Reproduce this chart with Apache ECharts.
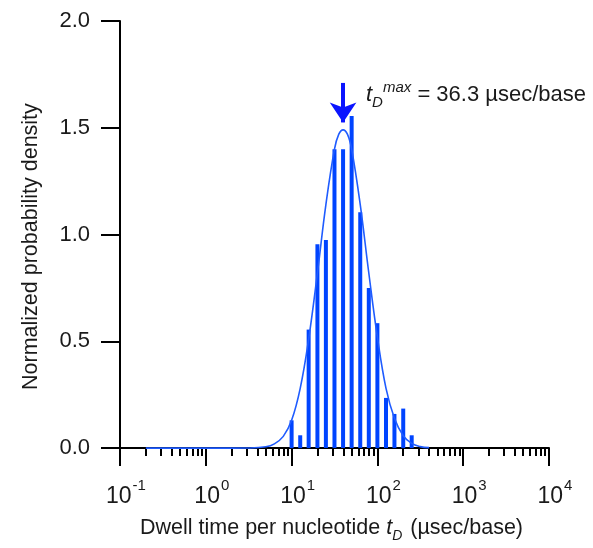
<!DOCTYPE html>
<html>
<head>
<meta charset="utf-8">
<script src="https://cdn.jsdelivr.net/npm/echarts@6/dist/echarts.min.js"></script>
<style>
  html, body { margin: 0; padding: 0; background: #ffffff; }
  #chart { width: 593px; height: 548px; }
</style>
</head>
<body>
<div id="chart"></div>
<script>
// Histogram bins (dwell time in µsec/base) and normalized densities
const binTimes = [10, 12.6, 15.8, 20, 25.1, 31.6, 39.8, 50.1, 63.1, 79.4, 100, 126, 158, 200, 251];
const binDensity = [0.13, 0.06, 0.555, 0.955, 0.975, 1.40, 1.40, 1.555, 1.105, 0.75, 0.585, 0.235, 0.16, 0.185, 0.06];

// Fitted curve (dwell time, density)
const curveTimes = [0.2, 0.5, 1, 2, 3.16, 5, 6.3, 8, 10, 12.6, 15.8, 20, 25.1, 31.6, 35.5, 39.8, 44.7, 50.1, 63.1, 79.4, 100, 126, 158, 200, 251, 316, 400];
const curveDensity = [0, 0, 0, 0, 0.0005, 0.006, 0.02, 0.055, 0.13, 0.28, 0.51, 0.82, 1.14, 1.40, 1.47, 1.49, 1.47, 1.40, 1.14, 0.82, 0.52, 0.28, 0.14, 0.058, 0.022, 0.007, 0.002];

// Axis ticks
const xDecades = [-1, 0, 1, 2, 3, 4];
const yTicks = [0, 0.5, 1.0, 1.5, 2.0];

// Annotation
const peakTime = 39.8;
const arrowTop = 1.71;
const arrowTip = 1.525;
const peakLabel = '36.3 µsec/base';

const FONT = "'Liberation Sans', Arial, sans-serif";
const TXT = '#1a1a1a';
const BLUE_BAR = '#0044ff';
const BLUE_LINE = '#1f5cff';
const BLUE_ARROW = '#0a14ff';

const minorTicks = [];
for (let d = xDecades[0]; d < xDecades[xDecades.length - 1]; d++) {
  for (let k = 2; k <= 9; k++) minorTicks.push(d + Math.log10(k));
}

const chart = echarts.init(document.getElementById('chart'), null, { renderer: 'canvas' });

const axisLineStyle = { color: '#000', width: 2 };

const option = {
  animation: false,
  backgroundColor: '#ffffff',
  grid: { left: 120, right: 44, top: 21, bottom: 98, containLabel: false },
  xAxis: [
    {
      type: 'value',
      min: xDecades[0],
      max: xDecades[xDecades.length - 1],
      interval: 1,
      splitLine: { show: false },
      axisLine: { show: true, onZero: false, lineStyle: axisLineStyle },
      axisTick: { show: true, inside: false, length: 18, lineStyle: { color: '#000', width: 2 } },
      axisLabel: {
        margin: 30,
        fontFamily: FONT,
        color: TXT,
        padding: [0, 0, 0, 12],
        formatter: function (v) { return '{b|10}{s|' + Math.round(v) + '}'; },
        rich: {
          b: { fontFamily: FONT, fontSize: 23, color: TXT, lineHeight: 30, verticalAlign: 'bottom' },
          s: { fontFamily: FONT, fontSize: 15, color: TXT, lineHeight: 30, verticalAlign: 'top', padding: [0, 0, 12, 1] }
        }
      },
      name: 'Dwell time per nucleotide {it|t}{sub|D} (µsec/base)',
      nameLocation: 'middle',
      nameGap: 64,
      nameTextStyle: {
        fontFamily: FONT,
        fontSize: 21.5,
        color: TXT,
        lineHeight: 30,
        padding: [0, 6, 0, 0],
        rich: {
          it: { fontFamily: FONT, fontSize: 21.5, fontStyle: 'italic', color: TXT, lineHeight: 30 },
          sub: { fontFamily: FONT, fontSize: 14, fontStyle: 'italic', color: TXT, lineHeight: 30, verticalAlign: 'bottom', padding: [6, 2, 0, 0] }
        }
      }
    },
    {
      type: 'value',
      min: xDecades[0],
      max: xDecades[xDecades.length - 1],
      position: 'bottom',
      splitLine: { show: false },
      axisLine: { show: false, onZero: false },
      axisLabel: { show: false },
      axisTick: { show: true, inside: false, length: 8, customValues: minorTicks, lineStyle: { color: '#000', width: 2 } }
    }
  ],
  yAxis: {
    type: 'value',
    min: yTicks[0],
    max: yTicks[yTicks.length - 1],
    interval: 0.5,
    splitLine: { show: false },
    axisLine: { show: true, onZero: false, lineStyle: axisLineStyle },
    axisTick: { show: true, inside: false, length: 19, lineStyle: { color: '#000', width: 2 } },
    axisLabel: {
      margin: 30,
      fontFamily: FONT,
      fontSize: 22,
      color: TXT,
      formatter: function (v) { return v.toFixed(1); }
    },
    name: 'Normalized probability density',
    nameLocation: 'middle',
    nameGap: 78,
    nameRotate: 90,
    nameTextStyle: { fontFamily: FONT, fontSize: 21.5, color: TXT, padding: [0, 24, 0, 0] }
  },
  series: [
    {
      type: 'bar',
      xAxisIndex: 0,
      barWidth: 4,
      silent: true,
      itemStyle: { color: BLUE_BAR },
      data: binTimes.map((t, i) => [Math.log10(t), binDensity[i]])
    },
    {
      type: 'line',
      xAxisIndex: 0,
      smooth: 0.4,
      showSymbol: false,
      symbol: 'none',
      silent: true,
      lineStyle: { color: BLUE_LINE, width: 1.6 },
      data: curveTimes.map((t, i) => [Math.log10(t), curveDensity[i]]),
      markLine: {
        silent: true,
        symbol: ['none', 'arrow'],
        symbolSize: 20,
        lineStyle: { color: BLUE_ARROW, width: 4, type: 'solid' },
        itemStyle: { color: BLUE_ARROW },
        label: { show: false },
        emphasis: { disabled: true },
        data: [[
          { coord: [Math.log10(peakTime), arrowTop], symbol: 'none' },
          { coord: [Math.log10(peakTime), arrowTip], symbol: 'arrow', symbolSize: 20 }
        ]]
      }
    }
  ],
  graphic: [
    {
      type: 'text',
      left: 366,
      top: 80,
      style: {
        text: '{t|t}{d|D}{m|max}{r| = ' + peakLabel + '}',
        fill: TXT,
        rich: {
          t: { fontFamily: FONT, fontSize: 22, fontStyle: 'italic', fill: TXT, lineHeight: 30 },
          d: { fontFamily: FONT, fontSize: 15, fontStyle: 'italic', fill: TXT, lineHeight: 30, verticalAlign: 'bottom' },
          m: { fontFamily: FONT, fontSize: 15, fontStyle: 'italic', fill: TXT, lineHeight: 30, verticalAlign: 'top' },
          r: { fontFamily: FONT, fontSize: 22, fill: TXT, lineHeight: 30 }
        }
      }
    }
  ]
};

chart.setOption(option);
</script>
</body>
</html>
